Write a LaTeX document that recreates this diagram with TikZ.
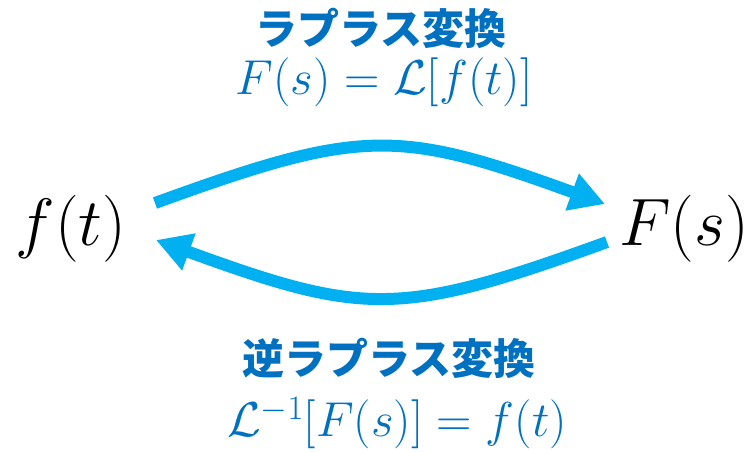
\RequirePackage{fix-cm}
\documentclass[tikz,border=0pt]{standalone}
\usepackage{fontspec}
\newfontfamily\jpfont{Noto Sans CJK JP}
\usetikzlibrary{arrows.meta}
\definecolor{txtblue}{HTML}{0070C0}
\definecolor{arrcyan}{HTML}{00B0F0}
\tikzset{
  bigmath/.style={inner sep=0pt, text=black, font=\fontsize{67}{73}\selectfont},
  formula/.style={inner sep=0pt, text=txtblue, font=\fontsize{49}{55}\selectfont},
  jtitle/.style={inner sep=0pt, text=txtblue, font=\jpfont\bfseries\fontsize{42}{48}\selectfont},
  arr/.style={draw=arrcyan, line width=12pt, -{Triangle[length=35pt,width=37pt]}}
}
\begin{document}
\begin{tikzpicture}[x=1pt,y=-1pt]
\useasboundingbox (0,0) rectangle (751,451);
\node[bigmath] (ft) at (71,229) {$f(t)$};
\node[bigmath] (Fs) at (684,229) {$F(s)$};
\node[jtitle] (t1) at (381,28) {ラプラス変換};
\node[formula] (e1) at (384,82) {$F(s)=\mathcal{L}[f(t)]$};
\node[jtitle] (t2) at (389,358) {逆ラプラス変換};
\node[formula] (e2) at (397,423) {$\mathcal{L}^{-1}[F(s)]=f(t)$};
\draw[arr] ([xshift=84pt,yshift=26pt]ft.center) to[out=20,in=160,looseness=1.25] ([xshift=-79pt,yshift=25pt]Fs.center);
\draw[arr] ([xshift=-77pt,yshift=-13pt]Fs.center) to[out=200,in=-20,looseness=1.25] ([xshift=85pt,yshift=-11pt]ft.center);
\end{tikzpicture}
\end{document}
